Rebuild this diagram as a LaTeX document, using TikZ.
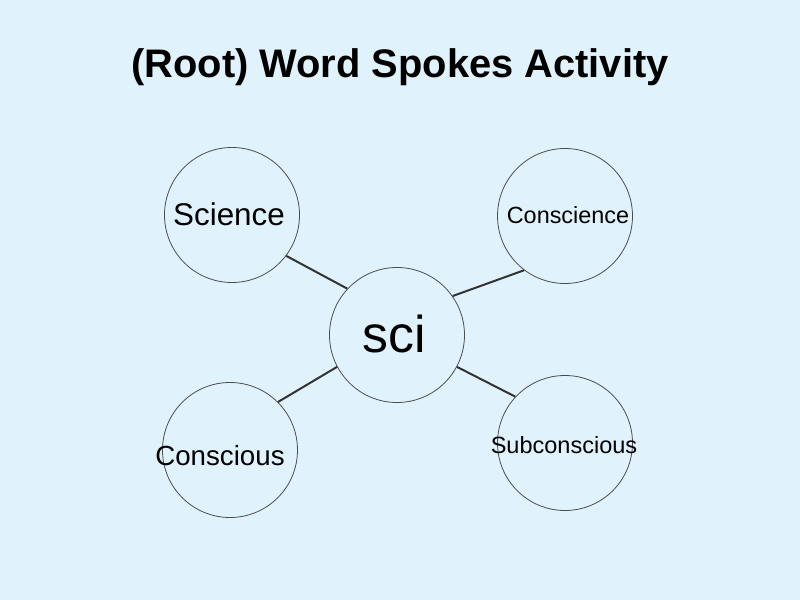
\documentclass[tikz,border=0pt]{standalone}
\usepackage{fontspec}
\setmainfont{Liberation Sans}
\usepackage{tikz}
\usetikzlibrary{positioning}

\definecolor{paleblue}{RGB}{224,242,252}

\begin{document}
\begin{tikzpicture}[x = 1bp, y = -1bp]
            \tikzset{
                spoke/.style = {draw = black!70, line width = 0.8bp, circle, minimum size = 135bp, inner sep = 0},
                word/.style = {inner sep = 0, anchor = base},
                link/.style = {draw = black!80, line width = 2bp}
            }
            \fill[paleblue] (0,0) rectangle (800,600);
            \useasboundingbox (0,0) rectangle (800,600);

            \node[word, font = \bfseries\fontsize{40}{48}\selectfont] (title) at (400,78) {(Root) Word Spokes Activity};

            % circles
            \node[spoke] (sci) at (397,335) {};
            \node[spoke] (science) at (232,215) {};
            \node[spoke] (conscience) at (565,216) {};
            \node[spoke] (conscious) at (230,450) {};
            \node[spoke] (subconscious) at (565,443) {};

            % words
            \node[word, font = \fontsize{52}{60}\selectfont] (scitext) at (394,352) {sci};
            \node[word, font = \fontsize{31.5}{36}\selectfont] (sciencetext) at (229,226) {Science};
            \node[word, font = \fontsize{23.5}{28}\selectfont] (consciencetext) at (568,224) {Conscience};
            \node[word, font = \fontsize{27.8}{32}\selectfont] (conscioustext) at (220,465) {Conscious};
            \node[word, font = \fontsize{23.6}{28}\selectfont] (subconscioustext) at (564,453) {Subconscious};

            % spokes
            \draw[link] (science.-37) -- (sci.137);
            \draw[link] (conscience.233) -- (sci.35);
            \draw[link] (sci.208) -- (conscious.45);
            \draw[link] (sci.-28) -- (subconscious.137);
        \end{tikzpicture}
\end{document}
